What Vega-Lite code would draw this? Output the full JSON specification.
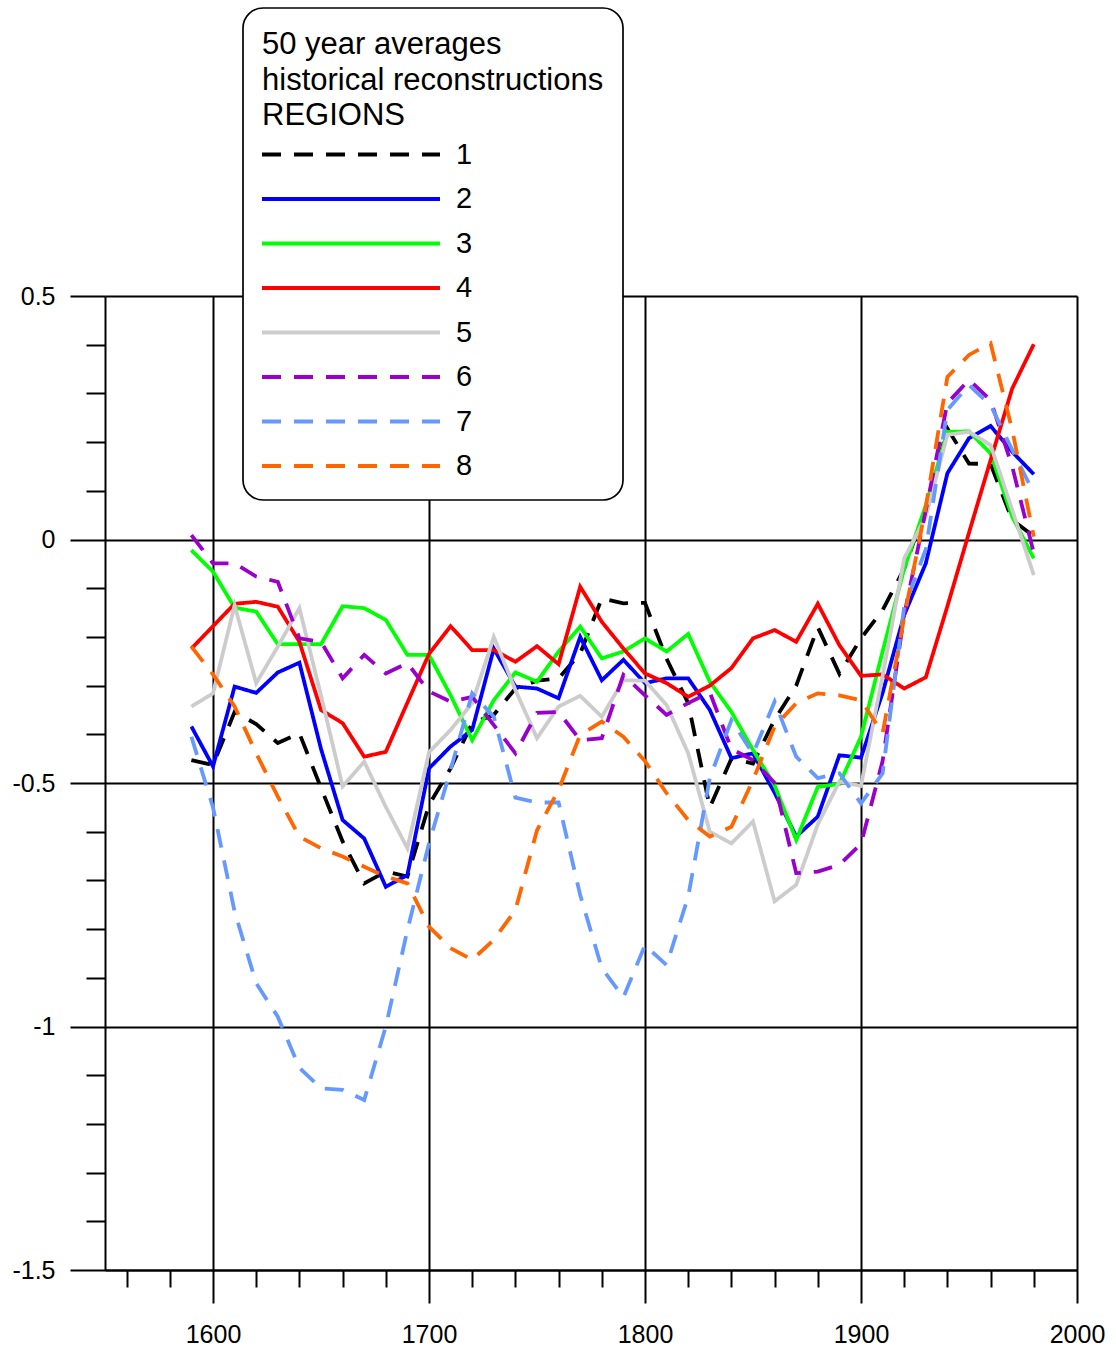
{
  "$schema": "https://vega.github.io/schema/vega-lite/v6.json",
  "width": 972,
  "height": 974,
  "autosize": "none",
  "padding": {"left": 105, "top": 296, "right": 39, "bottom": 79},
  "background": "white",
  "config": {"view": {"stroke": null}, "font": "Liberation Sans", "legend": {"strokeWidth": 1.7}},
  "datasets": {
    "series": [
      {"region":"1","year":1590,"value":-0.453},{"region":"1","year":1600,"value":-0.463},{"region":"1","year":1610,"value":-0.354},{"region":"1","year":1620,"value":-0.379},{"region":"1","year":1630,"value":-0.418},{"region":"1","year":1640,"value":-0.398},{"region":"1","year":1650,"value":-0.51},{"region":"1","year":1660,"value":-0.62},{"region":"1","year":1670,"value":-0.706},{"region":"1","year":1680,"value":-0.682},{"region":"1","year":1690,"value":-0.692},{"region":"1","year":1700,"value":-0.545},{"region":"1","year":1710,"value":-0.47},{"region":"1","year":1720,"value":-0.377},{"region":"1","year":1730,"value":-0.36},{"region":"1","year":1740,"value":-0.306},{"region":"1","year":1750,"value":-0.29},{"region":"1","year":1760,"value":-0.285},{"region":"1","year":1770,"value":-0.234},{"region":"1","year":1780,"value":-0.121},{"region":"1","year":1790,"value":-0.131},{"region":"1","year":1800,"value":-0.13},{"region":"1","year":1810,"value":-0.245},{"region":"1","year":1820,"value":-0.336},{"region":"1","year":1830,"value":-0.55},{"region":"1","year":1840,"value":-0.45},{"region":"1","year":1850,"value":-0.46},{"region":"1","year":1860,"value":-0.37},{"region":"1","year":1870,"value":-0.3},{"region":"1","year":1880,"value":-0.18},{"region":"1","year":1890,"value":-0.276},{"region":"1","year":1900,"value":-0.203},{"region":"1","year":1910,"value":-0.145},{"region":"1","year":1920,"value":-0.06},{"region":"1","year":1930,"value":0.065},{"region":"1","year":1940,"value":0.228},{"region":"1","year":1950,"value":0.156},{"region":"1","year":1960,"value":0.155},{"region":"1","year":1970,"value":0.04},{"region":"1","year":1980,"value":0.007},
      {"region":"2","year":1590,"value":-0.384},{"region":"2","year":1600,"value":-0.466},{"region":"2","year":1610,"value":-0.302},{"region":"2","year":1620,"value":-0.315},{"region":"2","year":1630,"value":-0.273},{"region":"2","year":1640,"value":-0.253},{"region":"2","year":1650,"value":-0.43},{"region":"2","year":1660,"value":-0.576},{"region":"2","year":1670,"value":-0.614},{"region":"2","year":1680,"value":-0.713},{"region":"2","year":1690,"value":-0.689},{"region":"2","year":1700,"value":-0.47},{"region":"2","year":1710,"value":-0.425},{"region":"2","year":1720,"value":-0.391},{"region":"2","year":1730,"value":-0.224},{"region":"2","year":1740,"value":-0.302},{"region":"2","year":1750,"value":-0.306},{"region":"2","year":1760,"value":-0.326},{"region":"2","year":1770,"value":-0.2},{"region":"2","year":1780,"value":-0.289},{"region":"2","year":1790,"value":-0.247},{"region":"2","year":1800,"value":-0.295},{"region":"2","year":1810,"value":-0.285},{"region":"2","year":1820,"value":-0.285},{"region":"2","year":1830,"value":-0.35},{"region":"2","year":1840,"value":-0.449},{"region":"2","year":1850,"value":-0.439},{"region":"2","year":1860,"value":-0.52},{"region":"2","year":1870,"value":-0.61},{"region":"2","year":1880,"value":-0.569},{"region":"2","year":1890,"value":-0.443},{"region":"2","year":1900,"value":-0.448},{"region":"2","year":1910,"value":-0.315},{"region":"2","year":1920,"value":-0.155},{"region":"2","year":1930,"value":-0.049},{"region":"2","year":1940,"value":0.136},{"region":"2","year":1950,"value":0.208},{"region":"2","year":1960,"value":0.233},{"region":"2","year":1970,"value":0.18},{"region":"2","year":1980,"value":0.134},
      {"region":"3","year":1590,"value":-0.022},{"region":"3","year":1600,"value":-0.066},{"region":"3","year":1610,"value":-0.14},{"region":"3","year":1620,"value":-0.148},{"region":"3","year":1630,"value":-0.215},{"region":"3","year":1640,"value":-0.215},{"region":"3","year":1650,"value":-0.215},{"region":"3","year":1660,"value":-0.137},{"region":"3","year":1670,"value":-0.141},{"region":"3","year":1680,"value":-0.165},{"region":"3","year":1690,"value":-0.237},{"region":"3","year":1700,"value":-0.237},{"region":"3","year":1710,"value":-0.32},{"region":"3","year":1720,"value":-0.412},{"region":"3","year":1730,"value":-0.33},{"region":"3","year":1740,"value":-0.273},{"region":"3","year":1750,"value":-0.292},{"region":"3","year":1760,"value":-0.23},{"region":"3","year":1770,"value":-0.179},{"region":"3","year":1780,"value":-0.244},{"region":"3","year":1790,"value":-0.23},{"region":"3","year":1800,"value":-0.203},{"region":"3","year":1810,"value":-0.23},{"region":"3","year":1820,"value":-0.194},{"region":"3","year":1830,"value":-0.292},{"region":"3","year":1840,"value":-0.354},{"region":"3","year":1850,"value":-0.432},{"region":"3","year":1860,"value":-0.505},{"region":"3","year":1870,"value":-0.617},{"region":"3","year":1880,"value":-0.508},{"region":"3","year":1890,"value":-0.502},{"region":"3","year":1900,"value":-0.405},{"region":"3","year":1910,"value":-0.23},{"region":"3","year":1920,"value":-0.06},{"region":"3","year":1930,"value":0.07},{"region":"3","year":1940,"value":0.221},{"region":"3","year":1950,"value":0.222},{"region":"3","year":1960,"value":0.177},{"region":"3","year":1970,"value":0.047},{"region":"3","year":1980,"value":-0.039},
      {"region":"4","year":1590,"value":-0.224},{"region":"4","year":1600,"value":-0.178},{"region":"4","year":1610,"value":-0.132},{"region":"4","year":1620,"value":-0.128},{"region":"4","year":1630,"value":-0.138},{"region":"4","year":1640,"value":-0.21},{"region":"4","year":1650,"value":-0.35},{"region":"4","year":1660,"value":-0.377},{"region":"4","year":1670,"value":-0.446},{"region":"4","year":1680,"value":-0.436},{"region":"4","year":1690,"value":-0.335},{"region":"4","year":1700,"value":-0.235},{"region":"4","year":1710,"value":-0.178},{"region":"4","year":1720,"value":-0.227},{"region":"4","year":1730,"value":-0.227},{"region":"4","year":1740,"value":-0.251},{"region":"4","year":1750,"value":-0.219},{"region":"4","year":1760,"value":-0.256},{"region":"4","year":1770,"value":-0.097},{"region":"4","year":1780,"value":-0.169},{"region":"4","year":1790,"value":-0.224},{"region":"4","year":1800,"value":-0.275},{"region":"4","year":1810,"value":-0.295},{"region":"4","year":1820,"value":-0.323},{"region":"4","year":1830,"value":-0.3},{"region":"4","year":1840,"value":-0.264},{"region":"4","year":1850,"value":-0.203},{"region":"4","year":1860,"value":-0.186},{"region":"4","year":1870,"value":-0.21},{"region":"4","year":1880,"value":-0.132},{"region":"4","year":1890,"value":-0.217},{"region":"4","year":1900,"value":-0.28},{"region":"4","year":1910,"value":-0.277},{"region":"4","year":1920,"value":-0.306},{"region":"4","year":1930,"value":-0.283},{"region":"4","year":1940,"value":-0.137},{"region":"4","year":1950,"value":0.014},{"region":"4","year":1960,"value":0.163},{"region":"4","year":1970,"value":0.31},{"region":"4","year":1980,"value":0.401},
      {"region":"5","year":1590,"value":-0.343},{"region":"5","year":1600,"value":-0.316},{"region":"5","year":1610,"value":-0.135},{"region":"5","year":1620,"value":-0.295},{"region":"5","year":1630,"value":-0.22},{"region":"5","year":1640,"value":-0.141},{"region":"5","year":1650,"value":-0.32},{"region":"5","year":1660,"value":-0.507},{"region":"5","year":1670,"value":-0.456},{"region":"5","year":1680,"value":-0.549},{"region":"5","year":1690,"value":-0.634},{"region":"5","year":1700,"value":-0.437},{"region":"5","year":1710,"value":-0.391},{"region":"5","year":1720,"value":-0.336},{"region":"5","year":1730,"value":-0.2},{"region":"5","year":1740,"value":-0.309},{"region":"5","year":1750,"value":-0.408},{"region":"5","year":1760,"value":-0.343},{"region":"5","year":1770,"value":-0.321},{"region":"5","year":1780,"value":-0.364},{"region":"5","year":1790,"value":-0.289},{"region":"5","year":1800,"value":-0.29},{"region":"5","year":1810,"value":-0.34},{"region":"5","year":1820,"value":-0.439},{"region":"5","year":1830,"value":-0.6},{"region":"5","year":1840,"value":-0.624},{"region":"5","year":1850,"value":-0.579},{"region":"5","year":1860,"value":-0.743},{"region":"5","year":1870,"value":-0.709},{"region":"5","year":1880,"value":-0.585},{"region":"5","year":1890,"value":-0.497},{"region":"5","year":1900,"value":-0.506},{"region":"5","year":1910,"value":-0.28},{"region":"5","year":1920,"value":-0.039},{"region":"5","year":1930,"value":0.047},{"region":"5","year":1940,"value":0.215},{"region":"5","year":1950,"value":0.221},{"region":"5","year":1960,"value":0.194},{"region":"5","year":1970,"value":0.061},{"region":"5","year":1980,"value":-0.073},
      {"region":"6","year":1590,"value":0.009},{"region":"6","year":1600,"value":-0.049},{"region":"6","year":1610,"value":-0.049},{"region":"6","year":1620,"value":-0.076},{"region":"6","year":1630,"value":-0.087},{"region":"6","year":1640,"value":-0.203},{"region":"6","year":1650,"value":-0.21},{"region":"6","year":1660,"value":-0.285},{"region":"6","year":1670,"value":-0.237},{"region":"6","year":1680,"value":-0.275},{"region":"6","year":1690,"value":-0.254},{"region":"6","year":1700,"value":-0.312},{"region":"6","year":1710,"value":-0.333},{"region":"6","year":1720,"value":-0.323},{"region":"6","year":1730,"value":-0.381},{"region":"6","year":1740,"value":-0.439},{"region":"6","year":1750,"value":-0.356},{"region":"6","year":1760,"value":-0.354},{"region":"6","year":1770,"value":-0.412},{"region":"6","year":1780,"value":-0.408},{"region":"6","year":1790,"value":-0.278},{"region":"6","year":1800,"value":-0.32},{"region":"6","year":1810,"value":-0.36},{"region":"6","year":1820,"value":-0.336},{"region":"6","year":1830,"value":-0.314},{"region":"6","year":1840,"value":-0.43},{"region":"6","year":1850,"value":-0.453},{"region":"6","year":1860,"value":-0.5},{"region":"6","year":1870,"value":-0.685},{"region":"6","year":1880,"value":-0.682},{"region":"6","year":1890,"value":-0.668},{"region":"6","year":1900,"value":-0.625},{"region":"6","year":1910,"value":-0.455},{"region":"6","year":1920,"value":-0.155},{"region":"6","year":1930,"value":0.06},{"region":"6","year":1940,"value":0.28},{"region":"6","year":1950,"value":0.328},{"region":"6","year":1960,"value":0.286},{"region":"6","year":1970,"value":0.15},{"region":"6","year":1980,"value":-0.028},
      {"region":"7","year":1590,"value":-0.405},{"region":"7","year":1600,"value":-0.55},{"region":"7","year":1610,"value":-0.764},{"region":"7","year":1620,"value":-0.911},{"region":"7","year":1630,"value":-0.98},{"region":"7","year":1640,"value":-1.085},{"region":"7","year":1650,"value":-1.127},{"region":"7","year":1660,"value":-1.13},{"region":"7","year":1670,"value":-1.151},{"region":"7","year":1680,"value":-1.0},{"region":"7","year":1690,"value":-0.802},{"region":"7","year":1700,"value":-0.624},{"region":"7","year":1710,"value":-0.473},{"region":"7","year":1720,"value":-0.316},{"region":"7","year":1730,"value":-0.364},{"region":"7","year":1740,"value":-0.53},{"region":"7","year":1750,"value":-0.54},{"region":"7","year":1760,"value":-0.54},{"region":"7","year":1770,"value":-0.73},{"region":"7","year":1780,"value":-0.88},{"region":"7","year":1790,"value":-0.94},{"region":"7","year":1800,"value":-0.833},{"region":"7","year":1810,"value":-0.874},{"region":"7","year":1820,"value":-0.733},{"region":"7","year":1830,"value":-0.49},{"region":"7","year":1840,"value":-0.371},{"region":"7","year":1850,"value":-0.44},{"region":"7","year":1860,"value":-0.333},{"region":"7","year":1870,"value":-0.446},{"region":"7","year":1880,"value":-0.49},{"region":"7","year":1890,"value":-0.48},{"region":"7","year":1900,"value":-0.542},{"region":"7","year":1910,"value":-0.48},{"region":"7","year":1920,"value":-0.138},{"region":"7","year":1930,"value":-0.02},{"region":"7","year":1940,"value":0.266},{"region":"7","year":1950,"value":0.317},{"region":"7","year":1960,"value":0.276},{"region":"7","year":1970,"value":0.184},{"region":"7","year":1980,"value":0.095},
      {"region":"8","year":1590,"value":-0.22},{"region":"8","year":1600,"value":-0.277},{"region":"8","year":1610,"value":-0.343},{"region":"8","year":1620,"value":-0.439},{"region":"8","year":1630,"value":-0.528},{"region":"8","year":1640,"value":-0.61},{"region":"8","year":1650,"value":-0.634},{"region":"8","year":1660,"value":-0.651},{"region":"8","year":1670,"value":-0.672},{"region":"8","year":1680,"value":-0.692},{"region":"8","year":1690,"value":-0.706},{"region":"8","year":1700,"value":-0.795},{"region":"8","year":1710,"value":-0.839},{"region":"8","year":1720,"value":-0.863},{"region":"8","year":1730,"value":-0.822},{"region":"8","year":1740,"value":-0.761},{"region":"8","year":1750,"value":-0.597},{"region":"8","year":1760,"value":-0.514},{"region":"8","year":1770,"value":-0.401},{"region":"8","year":1780,"value":-0.374},{"region":"8","year":1790,"value":-0.405},{"region":"8","year":1800,"value":-0.455},{"region":"8","year":1810,"value":-0.521},{"region":"8","year":1820,"value":-0.576},{"region":"8","year":1830,"value":-0.61},{"region":"8","year":1840,"value":-0.59},{"region":"8","year":1850,"value":-0.494},{"region":"8","year":1860,"value":-0.384},{"region":"8","year":1870,"value":-0.336},{"region":"8","year":1880,"value":-0.316},{"region":"8","year":1890,"value":-0.32},{"region":"8","year":1900,"value":-0.33},{"region":"8","year":1910,"value":-0.398},{"region":"8","year":1920,"value":-0.16},{"region":"8","year":1930,"value":0.067},{"region":"8","year":1940,"value":0.334},{"region":"8","year":1950,"value":0.379},{"region":"8","year":1960,"value":0.403},{"region":"8","year":1970,"value":0.225},{"region":"8","year":1980,"value":0.006}
    ]
  },
  "data": {"name": "series"},
  "mark": {"type": "line", "strokeWidth": 3.8, "clip": false},
  "encoding": {
    "x": {
      "field": "year", "type": "quantitative",
      "scale": {"domain": [1550, 2000], "nice": false, "zero": false},
      "axis": {
        "title": null,
        "values": [1560,1580,1600,1620,1640,1660,1680,1700,1720,1740,1760,1780,1800,1820,1840,1860,1880,1900,1920,1940,1960,1980,2000],
        "grid": true, "gridColor": "black", "gridWidth": 2,
        "gridOpacity": {"condition": {"test": "datum.value % 100 == 0", "value": 1}, "value": 0},
        "tickSize": {"condition": {"test": "datum.value % 100 == 0", "value": 33}, "value": 17},
        "tickColor": "black", "tickWidth": 2,
        "domainColor": "black", "domainWidth": 2,
        "labelExpr": "datum.value % 100 == 0 ? toString(datum.value) : ''",
        "labelFontSize": 25, "labelPadding": 19, "labelColor": "black", "labelFont": "Liberation Sans",
        "labelFlush": false, "labelOverlap": false
      }
    },
    "y": {
      "field": "value", "type": "quantitative",
      "scale": {"domain": [-1.5, 0.5], "nice": false, "zero": false},
      "axis": {
        "title": null,
        "values": [-1.5,-1.4,-1.3,-1.2,-1.1,-1,-0.9,-0.8,-0.7,-0.6,-0.5,-0.4,-0.3,-0.2,-0.1,0,0.1,0.2,0.3,0.4,0.5],
        "grid": true, "gridColor": "black", "gridWidth": 2,
        "gridOpacity": {"condition": {"test": "abs(datum.value*2 - round(datum.value*2)) < 0.001", "value": 1}, "value": 0},
        "tickSize": {"condition": {"test": "abs(datum.value*2 - round(datum.value*2)) < 0.001", "value": 35}, "value": 19},
        "tickColor": "black", "tickWidth": 2,
        "domainColor": "black", "domainWidth": 2,
        "labelExpr": "abs(datum.value*2 - round(datum.value*2)) < 0.001 ? toString(datum.value) : ''",
        "labelFontSize": 25, "labelPadding": 15, "labelColor": "black", "labelFont": "Liberation Sans",
        "labelFlush": false, "labelOverlap": false
      }
    },
    "color": {
      "field": "region", "type": "nominal",
      "scale": {"domain": ["1","2","3","4","5","6","7","8"], "range": ["#000000","#0000ff","#00ff00","#ff0000","#cccccc","#9900cc","#6699ff","#ff6600"]},
      "legend": {
        "orient": "none", "legendX": 138, "legendY": -288,
        "title": ["50 year averages", "historical reconstructions", "REGIONS"],
        "titleFontSize": 31, "titleFontWeight": "normal", "titleColor": "black", "titleFont": "Liberation Sans",
        "titleLineHeight": 35.5, "titleBaseline": "line-top", "titlePadding": 19, "titleLimit": 1000,
        "symbolType": "stroke", "symbolSize": 31684, "symbolStrokeWidth": 3.8, "symbolOffset": -2,
        "labelFontSize": 29, "labelOffset": 14, "labelColor": "black", "labelFont": "Liberation Sans",
        "clipHeight": 13, "rowPadding": 14.5,
        "padding": 19, "cornerRadius": 20, "strokeColor": "black", "fillColor": "white"
      }
    },
    "strokeDash": {
      "field": "region", "type": "nominal",
      "scale": {"domain": ["1","2","3","4","5","6","7","8"], "range": [[19,13],[1,0],[1,0],[1,0],[1,0],[19,13],[19,13],[19,13]]},
      "legend": {
        "orient": "none", "legendX": 138, "legendY": -288,
        "title": ["50 year averages", "historical reconstructions", "REGIONS"],
        "titleFontSize": 31, "titleFontWeight": "normal", "titleColor": "black", "titleFont": "Liberation Sans",
        "titleLineHeight": 35.5, "titleBaseline": "line-top", "titlePadding": 19, "titleLimit": 1000,
        "symbolType": "stroke", "symbolSize": 31684, "symbolStrokeWidth": 3.8, "symbolOffset": -2,
        "labelFontSize": 29, "labelOffset": 14, "labelColor": "black", "labelFont": "Liberation Sans",
        "clipHeight": 13, "rowPadding": 14.5,
        "padding": 19, "cornerRadius": 20, "strokeColor": "black", "fillColor": "white"
      }
    }
  }
}
